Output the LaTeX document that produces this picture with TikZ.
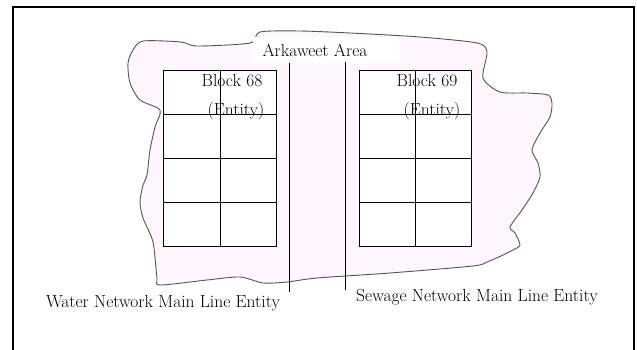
\documentclass[tikz,border=0pt]{standalone}
\usepackage{fontspec}
\usepackage{tikz}
\usetikzlibrary{positioning}
\definecolor{areapink}{RGB}{253,246,252}
\definecolor{edgegray}{RGB}{85,85,85}

\begin{document}
\begin{tikzpicture}[x=1pt,y=-1pt,
    lbl/.style={inner sep=1pt,font=\fontsize{17.5}{20}\selectfont},
    blockline/.style={line width=0.8pt,black}]
    \useasboundingbox (0,0) rectangle (637,350);
    \clip (0,0) rectangle (637,350);
    % outer frame
    \draw[line width=1.8pt] (13,360) -- (13,7) -- (634,7) -- (634,360);
    % Arkaweet area outline
    \draw[edgegray,line width=0.9pt,fill=areapink] plot[smooth cycle,tension=0.45] coordinates {
      (143,41) (181,42) (197,46) (250,43) (260,32) (300,31) (350,33) (420,37)
      (477,43) (487,52) (483,78) (500,92) (527,93) (548,95) (552,103) (550,117)
      (540,133) (532,150) (538,163) (540,177) (533,193) (522,210) (510,227)
      (515,233) (520,245) (513,250) (503,255) (487,262) (473,266) (390,273)
      (317,278) (287,282) (263,283) (240,277) (207,280) (160,285) (157,278)
      (153,242) (143,218) (140,202) (143,185) (147,175) (150,150) (155,127)
      (160,110) (140,100) (130,83) (128,63) (133,50)};
    \fill[white] (253,37) rectangle (399,63);
    \node[lbl] (area) at (315,50) {Arkaweet Area};
    % block 68
    \fill[white] (163,70) rectangle (276,246);
    \draw[blockline] (163,70) rectangle (276,246);
    \draw[blockline] (220,70) -- (220,246);
    \foreach \y in {114,158,202} \draw[blockline] (163,\y) -- (276,\y);
    \node[lbl] (b68) at (232,81) {Block 68};
    \node[lbl] (e68) at (236,111) {(Entity)};
    % block 69
    \fill[white] (359,70) rectangle (471,246);
    \draw[blockline] (359,70) rectangle (471,246);
    \draw[blockline] (415,70) -- (415,246);
    \foreach \y in {114,158,202} \draw[blockline] (359,\y) -- (471,\y);
    \node[lbl] (b69) at (427,81) {Block 69};
    \node[lbl] (e69) at (432,111) {(Entity)};
    % main lines
    \coordinate (wtop) at (289,63);
    \coordinate (wbot) at (289,292);
    \coordinate (stop) at (345,62);
    \coordinate (sbot) at (345,290);
    \draw[blockline] (wtop) -- (wbot);
    \draw[blockline] (stop) -- (sbot);
    \node[lbl] (water) at (163,303) {Water Network Main Line Entity};
    \node[lbl] (sewage) at (477,297) {Sewage Network Main Line Entity};
\end{tikzpicture}
\end{document}
